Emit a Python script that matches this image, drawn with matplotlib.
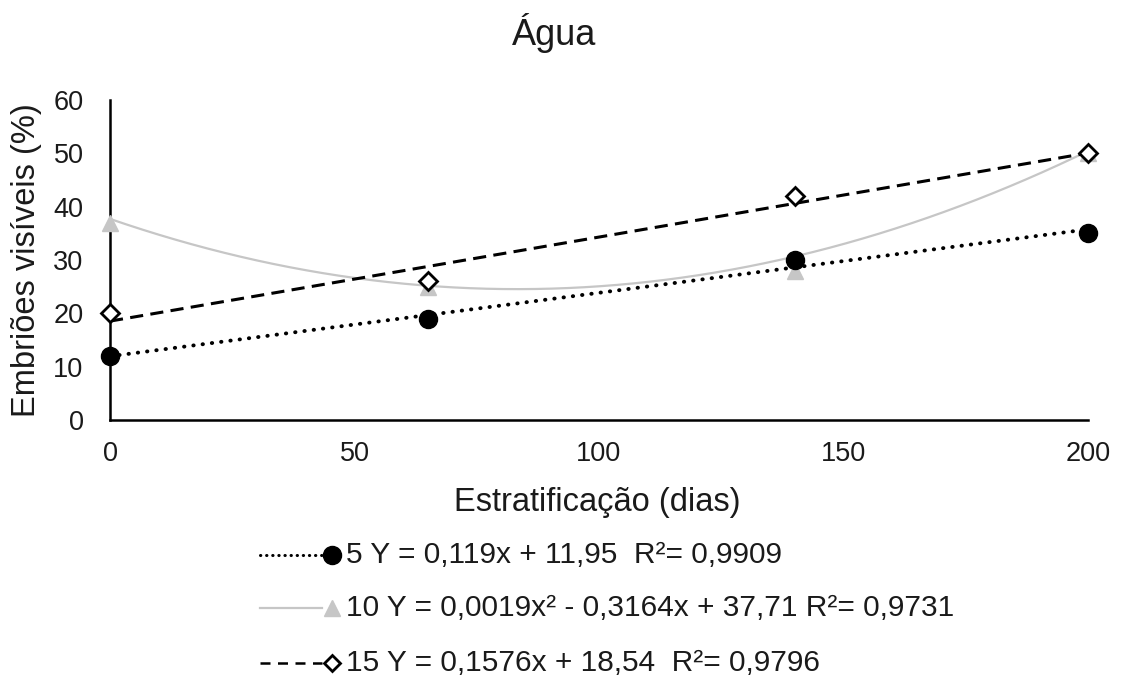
import numpy as np
import matplotlib
matplotlib.use("Agg")
import matplotlib.pyplot as plt
from matplotlib.lines import Line2D

plt.rcParams['font.family'] = ['Liberation Sans', 'DejaVu Sans']

# Stratification days and observed visible embryos (%)
dias = [0, 65, 140, 200]
serie_5 = [12, 19, 30, 35]
serie_10 = [37, 25, 28, 50]
serie_15 = [20, 26, 42, 50]

# Fitted trendline coefficients (highest degree first)
coef_5 = [0.119, 11.95]
coef_10 = [0.0019, -0.3164, 37.71]
coef_15 = [0.1576, 18.54]

rotulos = [
    "5 Y = 0,119x + 11,95  R\u00b2= 0,9909",
    "10 Y = 0,0019x\u00b2 - 0,3164x + 37,71 R\u00b2= 0,9731",
    "15 Y = 0,1576x + 18,54  R\u00b2= 0,9796",
]

W, H = 1121, 681
fig = plt.figure(figsize=(W / 100, H / 100), dpi=100)
ax = fig.add_axes([110 / W, 1 - 420 / H, (1088 - 110) / W, 320 / H])

cinza = "#c6c6c6"
texto = "#1a1a1a"
xs = np.linspace(0, 200, 300)

dot_style = dict(color="black", lw=2.8, linestyle=(0, (0.1, 2.3)), dash_capstyle="round")
dash_style = dict(color="black", lw=2.2, linestyle=(0, (4.3, 2.4)))
solid_style = dict(color=cinza, lw=1.6)

ax.plot(xs, np.polyval(coef_10, xs), **solid_style, zorder=2)
ax.plot(xs, np.polyval(coef_5, xs), **dot_style, zorder=3)
ax.plot(xs, np.polyval(coef_15, xs), **dash_style, zorder=3)

ax.plot(dias, serie_10, linestyle="none", marker="^", ms=12, color=cinza, mec=cinza, zorder=4, clip_on=False)
ax.plot(dias, serie_5, linestyle="none", marker="o", ms=13, color="black", zorder=5, clip_on=False)
ax.plot(dias, serie_15, linestyle="none", marker="D", ms=9, mfc="white", mec="black", mew=2.0, zorder=6, clip_on=False)

ax.set_xlim(0, 200)
ax.set_ylim(0, 60)
ax.set_xticks([0, 50, 100, 150, 200])
ax.set_yticks(range(0, 61, 10))
ax.tick_params(length=0, labelsize=19.5, colors=texto)
ax.tick_params(axis="x", pad=15)
ax.tick_params(axis="y", pad=19)
for s in ["top", "right"]:
    ax.spines[s].set_visible(False)
for s in ["left", "bottom"]:
    ax.spines[s].set_linewidth(1.8)
    ax.spines[s].set_color("black")

ax.set_xlabel("Estratificação (dias)", fontsize=23.5, color=texto, va="center")
ax.xaxis.set_label_coords(0.498, -(503 - 420) / 320)
ax.set_ylabel("Embriões visíveis (%)", fontsize=23.5, color=texto, va="center")
ax.yaxis.set_label_coords((27 - 110) / 978, 0.5)

fig.text(554 / W, 1 - 45 / H, "Água", fontsize=26, ha="center", va="baseline", color=texto)

# Legend drawn below the axes
linhas = [
    dict(color="black", lw=2.2, linestyle=(0, (0.1, 1.9)), dash_capstyle="round"),
    dict(color=cinza, lw=1.6),
    dict(color="black", lw=1.8, linestyle=(0, (4.0, 3.0))),
]
marcadores = [
    dict(marker="o", ms=13, color="black"),
    dict(marker="^", ms=12, color=cinza, mec=cinza),
    dict(marker="D", ms=8, mfc="white", mec="black", mew=2.0),
]
ys = [555, 608, 663]
for y, st, mk, txt in zip(ys, linhas, marcadores, rotulos):
    yf = 1 - y / H
    fig.add_artist(Line2D([260 / W, 322 / W], [yf, yf], transform=fig.transFigure, **st))
    fig.add_artist(Line2D([332 / W], [yf], transform=fig.transFigure, linestyle="none", **mk))
    fig.text(346 / W, yf, txt, fontsize=21.5, ha="left", va="center", color=texto)

fig.savefig("out.png", dpi=100)
